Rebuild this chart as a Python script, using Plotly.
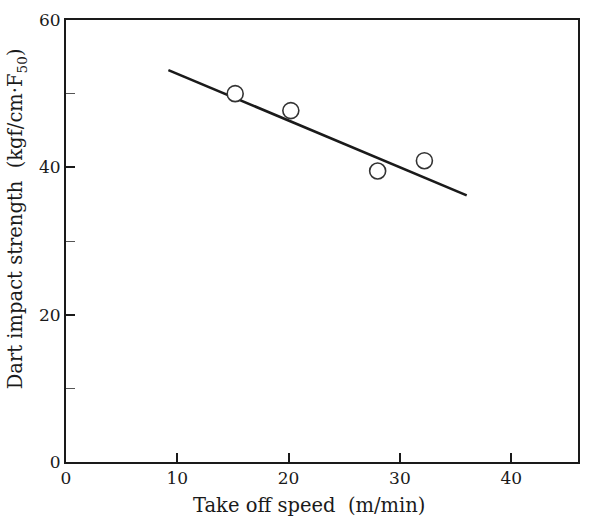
import plotly.graph_objects as go

# Measured points
speed = [15.2, 20.2, 28.0, 32.2]          # m/min
strength = [50.0, 47.7, 39.5, 40.9]       # kgf/cm·F50

# Fitted trend line end points
fit_speed = [9.2, 36.0]
fit_strength = [53.2, 36.2]

x_ticks = [0, 10, 20, 30, 40]
y_ticks = [0, 20, 40, 60]

serif = "DejaVu Serif, Liberation Serif, serif"
ink = "#1a1a1a"

fig = go.Figure()
fig.add_trace(go.Scatter(
    x=fit_speed, y=fit_strength, mode="lines",
    line=dict(color=ink, width=2.6), showlegend=False,
))
fig.add_trace(go.Scatter(
    x=speed, y=strength, mode="markers",
    marker=dict(symbol="circle", size=16, color="white",
                line=dict(color="#333333", width=1.6)),
    showlegend=False,
))

fig.update_layout(
    width=590, height=524,
    margin=dict(l=66, r=10, t=12, b=62),
    paper_bgcolor="white", plot_bgcolor="white",
    font=dict(family=serif, color=ink, size=17),
    xaxis=dict(
        range=[0, 46], tickvals=x_ticks, ticks="inside", ticklen=9,
        tickwidth=1.5, tickcolor=ink, showgrid=False, zeroline=False,
        showline=True, linecolor=ink, linewidth=2, mirror=True,
        tickfont=dict(family=serif, size=17, color=ink),
    ),
    yaxis=dict(
        range=[0, 60], tickvals=y_ticks, ticks="inside", ticklen=9,
        tickwidth=1.5, tickcolor=ink, showgrid=False, zeroline=False,
        showline=True, linecolor=ink, linewidth=2, mirror=True,
        tickfont=dict(family=serif, size=17, color=ink),
        minor=dict(tickvals=[10, 30, 50], ticks="inside", ticklen=9,
                   tickwidth=1.2, tickcolor="#555555"),
    ),
    annotations=[
        dict(text="Take off speed  (m/min)", xref="paper", yref="paper",
             x=0.475, y=-0.068, xanchor="center", yanchor="top",
             showarrow=False, font=dict(family=serif, size=19.5, color=ink)),
        dict(text="Dart impact strength  (kgf/cm·F<sub>50</sub>)",
             xref="paper", yref="paper", x=-0.095, y=0.55,
             xanchor="center", yanchor="middle", textangle=-90,
             showarrow=False, font=dict(family=serif, size=19.5, color=ink)),
    ],
)

fig.write_html("out.html")
